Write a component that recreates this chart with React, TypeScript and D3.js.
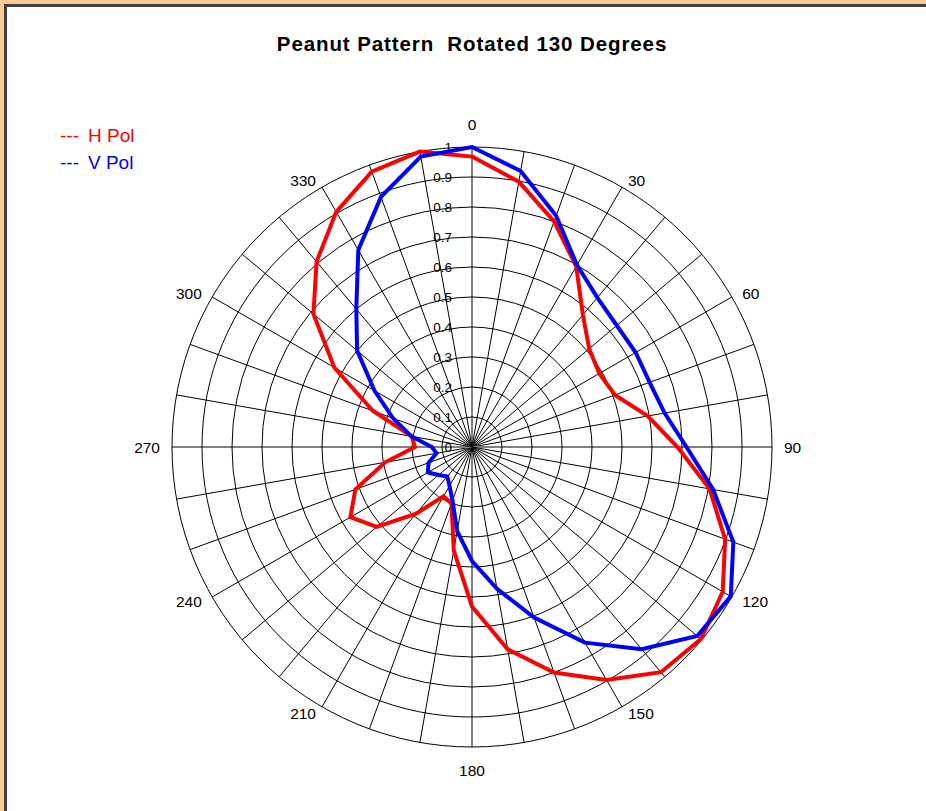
import React from 'react';
import * as d3 from 'd3';

// angles in degrees, clockwise from top
const angles = d3.range(0, 360, 10);

const hPol = [
  0.968, 0.898, 0.8, 0.695, 0.575, 0.51, 0.49, 0.507, 0.595, 0.685,
  0.804, 0.898, 0.965, 0.996, 0.98, 0.897, 0.8, 0.685, 0.532, 0.35,
  0.2, 0.19, 0.29, 0.414, 0.468, 0.414, 0.294, 0.19, 0.204, 0.351,
  0.53, 0.69, 0.806, 0.905, 0.977, 1.0,
];

const vPol = [
  1.0, 0.934, 0.82, 0.7, 0.65, 0.63, 0.63, 0.63, 0.652, 0.715,
  0.816, 0.927, 0.996, 0.98, 0.88, 0.753, 0.605, 0.48, 0.38, 0.285,
  0.19, 0.15, 0.128, 0.145, 0.17, 0.154, 0.12, 0.134, 0.205, 0.28,
  0.375, 0.5, 0.6, 0.758, 0.887, 0.983,
];

const radialTicks = [0, 0.1, 0.2, 0.3, 0.4, 0.5, 0.6, 0.7, 0.8, 0.9, 1];
const angleLabels = [0, 30, 60, 90, 120, 150, 180, 210, 240, 270, 300, 330];

const series = [
  { name: 'H Pol', values: hPol, color: '#ff0000' },
  { name: 'V Pol', values: vPol, color: '#0000ff' },
];

const W = 926;
const H = 811;
const cx = 472;
const cy = 447;

const App: React.FC = () => {
  const r = d3.scaleLinear().domain([0, 1]).range([0, 300]);
  const rad = (deg: number) => (deg * Math.PI) / 180;

  const line = d3
    .lineRadial<number>()
    .angle((_, i) => rad(angles[i]))
    .radius((d) => r(d))
    .curve(d3.curveLinearClosed);

  const font = 'Arial, "Liberation Sans", sans-serif';

  // angle labels sit just outside the outer ring, anchored away from the centre
  const labelPos = (a: number) => {
    const s = Math.sin(rad(a));
    const c = Math.cos(rad(a));
    const side = Math.abs(s) < 1e-6 ? 0 : Math.sign(s);
    return {
      x: side === 0 ? 0 : 312 * s,
      y: side === 0 ? -323 * c : -308 * c,
      anchor: side === 0 ? 'middle' : side > 0 ? 'start' : 'end',
    };
  };

  return (
    <div style={{ position: 'absolute', left: 0, top: 0 }}>
      <svg width={W} height={H} style={{ display: 'block', fontFamily: font }}>
        {/* frame */}
        <rect x={0} y={0} width={W} height={H} fill="#ffc994" />
        <rect x={4} y={4} width={W} height={H} fill="#404040" />
        <rect x={7} y={7} width={W} height={H} fill="#ffffff" />

        <text
          x={472}
          y={51}
          textAnchor="middle"
          fontSize={20.5}
          fontWeight="bold"
          letterSpacing={0.9}
          fill="#000"
          style={{ whiteSpace: 'pre' }}
        >
          {'Peanut Pattern  Rotated 130 Degrees'}
        </text>

        {/* legend */}
        {series.map((s, i) => (
          <text key={s.name} y={142 + i * 27} fontSize={19} fill={s.color}>
            <tspan x={60}>---</tspan>
            <tspan x={88}>{s.name}</tspan>
          </text>
        ))}

        <g transform={`translate(${cx},${cy})`}>
          {/* spokes */}
          {angles.map((a) => (
            <line
              key={'s' + a}
              x1={0}
              y1={0}
              x2={r(1) * Math.sin(rad(a))}
              y2={-r(1) * Math.cos(rad(a))}
              stroke={a === 90 || a === 270 ? '#808080' : '#000'}
              strokeWidth={a === 90 || a === 270 ? 2 : 1}
            />
          ))}
          {/* rings */}
          {radialTicks.slice(1).map((t) => (
            <circle key={'c' + t} r={r(t)} fill="none" stroke="#000" strokeWidth={1} />
          ))}
          {/* radial labels */}
          {radialTicks.map((t) => (
            <text
              key={'rl' + t}
              x={-20}
              y={-r(t)}
              textAnchor="end"
              dominantBaseline="central"
              fontSize={13.5}
              fill="#000"
            >
              {t}
            </text>
          ))}
          {/* angle labels */}
          {angleLabels.map((a) => {
            const p = labelPos(a);
            return (
              <text
                key={'al' + a}
                x={p.x}
                y={p.y}
                textAnchor={p.anchor}
                dominantBaseline="central"
                fontSize={15.5}
                fill="#000"
              >
                {a}
              </text>
            );
          })}
          {/* data */}
          {series.map((s) => (
            <path
              key={s.name}
              d={line(s.values) || ''}
              fill="none"
              stroke={s.color}
              strokeWidth={4}
              strokeLinejoin="miter"
            />
          ))}
        </g>
      </svg>
    </div>
  );
};

export default App;
